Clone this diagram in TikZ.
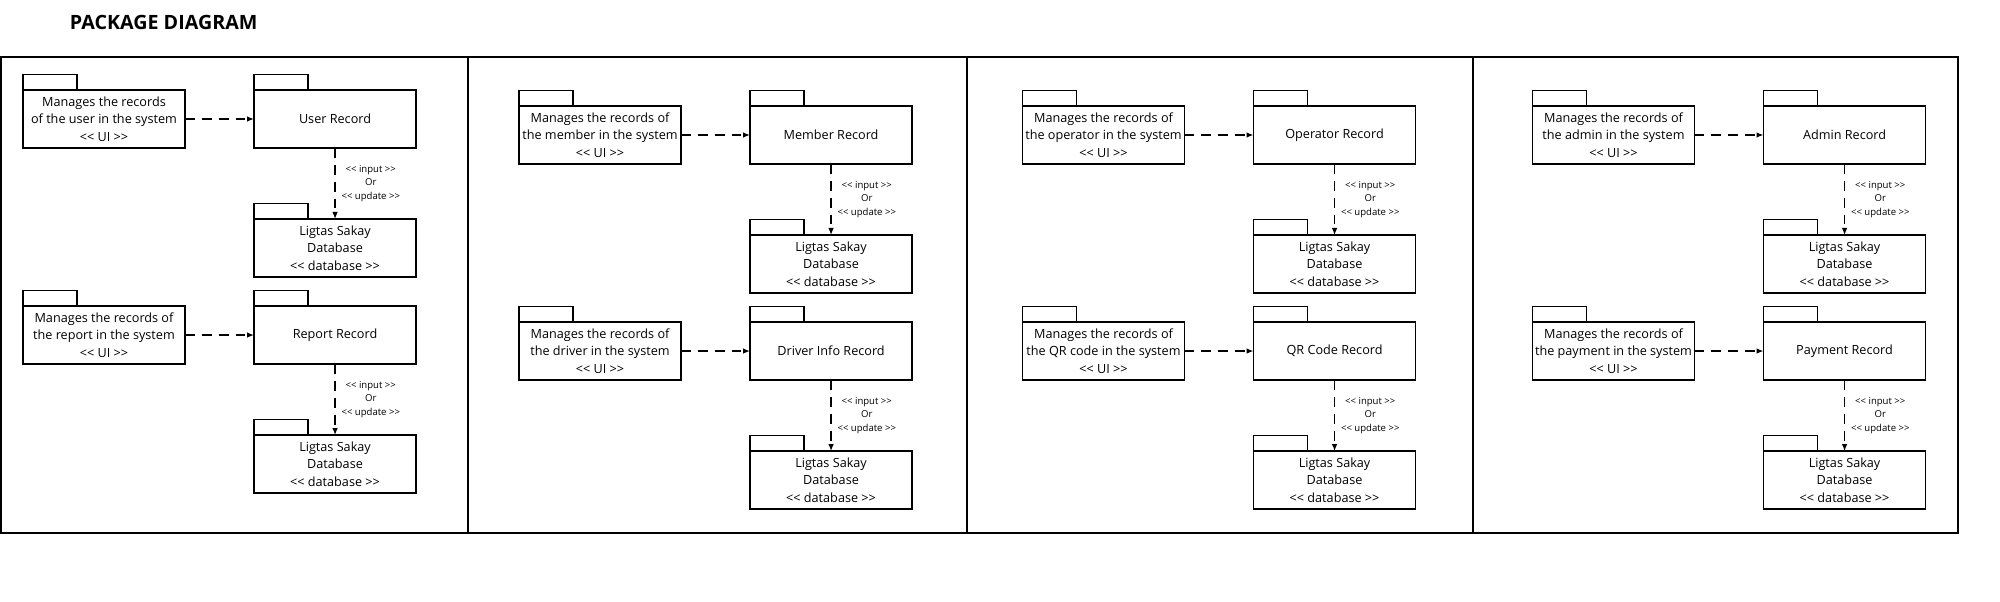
\documentclass[tikz,border=0pt]{standalone}
\usepackage{fontspec}
\setmainfont{Open Sans}
\usetikzlibrary{arrows.meta}

\newcommand{\lsg}{<\kern0pt<}
\newcommand{\rsg}{>\kern0pt>}
\newcommand{\inup}{\lsg{} input \rsg{}\\Or\\\lsg{} update \rsg{}}

\tikzstyle{ui} = [rectangle, draw, line width=1.2pt, outer sep=0pt, inner sep=0.5pt, node distance=5.4cm, minimum width=4.05cm, minimum height=1.45cm, align=center, font=\fontsize{9}{12.3}\selectfont]
\tikzstyle{rec} = [ui, node distance=5.775cm]
\tikzstyle{store} = [ui, node distance=3.225cm]
\tikzstyle{r} = [midway, right, inner sep=2pt, xshift=2pt, align=center, font=\fontsize{6.8}{9.5}\selectfont]
\tikzstyle{dep} = [->, >={Latex[length=5pt,width=4pt]}, line width=1.2pt, dash pattern=on 7pt off 5pt]

\begin{document}
\begin{tikzpicture}[x=0.025cm, y=0.025cm]
	\useasboundingbox (0,0) rectangle (2000,602);
	\node [anchor=west, font=\fontsize{14}{16}\selectfont\bfseries] (title) at (65,580) {PACKAGE DIAGRAM};

	\draw [line width=1.2pt] (1,69) rectangle (1958,545);
	\foreach \x in {468,967,1473}
		\draw [line width=1.2pt] (\x,69) -- (\x,545);

	\node [ui] (ua) at (104,483) {Manages the records\\of the user in the system\\\lsg{} UI \rsg{}};
	\node [rec, right of=ua] (ub) {User Record};
	\node [store, below of=ub] (uc) {Ligtas Sakay\\Database\\\lsg{} database \rsg{}};
	\node [ui, below of=ua] (ra) {Manages the records of\\the report in the system\\\lsg{} UI \rsg{}};
	\node [rec, right of=ra] (rb) {Report Record};
	\node [store, below of=rb] (rc) {Ligtas Sakay\\Database\\\lsg{} database \rsg{}};

	\node [ui] (ma) at (600,467) {Manages the records of\\the member in the system\\\lsg{} UI \rsg{}};
	\node [rec, right of=ma] (mb) {Member Record};
	\node [store, below of=mb] (mc) {Ligtas Sakay\\Database\\\lsg{} database \rsg{}};
	\node [ui, below of=ma] (da) {Manages the records of\\the driver in the system\\\lsg{} UI \rsg{}};
	\node [rec, right of=da] (db) {Driver Info Record};
	\node [store, below of=db] (dc) {Ligtas Sakay\\Database\\\lsg{} database \rsg{}};

	\node [ui] (oa) at (1103.5,467) {Manages the records of\\the operator in the system\\\lsg{} UI \rsg{}};
	\node [rec, right of=oa] (ob) {Operator Record};
	\node [store, below of=ob] (oc) {Ligtas Sakay\\Database\\\lsg{} database \rsg{}};
	\node [ui, below of=oa] (qa) {Manages the records of\\the QR code in the system\\\lsg{} UI \rsg{}};
	\node [rec, right of=qa] (qb) {QR Code Record};
	\node [store, below of=qb] (qc) {Ligtas Sakay\\Database\\\lsg{} database \rsg{}};

	\node [ui] (aa) at (1613.5,467) {Manages the records of\\the admin in the system\\\lsg{} UI \rsg{}};
	\node [rec, right of=aa] (ab) {Admin Record};
	\node [store, below of=ab] (ac) {Ligtas Sakay\\Database\\\lsg{} database \rsg{}};
	\node [ui, below of=aa] (pa) {Manages the records of\\the payment in the system\\\lsg{} UI \rsg{}};
	\node [rec, right of=pa] (pb) {Payment Record};
	\node [store, below of=pb] (pc) {Ligtas Sakay\\Database\\\lsg{} database \rsg{}};

	\foreach \n in {ua,ub,uc,ra,rb,rc,ma,mb,mc,da,db,dc,oa,ob,oc,qa,qb,qc,aa,ab,ac,pa,pb,pc}
		\draw [line width=1.2pt] (\n.north west) rectangle ++(54,15.5);

	\draw [dep] (ua) -- (ub);
	\draw [dep] (ub) -- (uc) node [r] {\inup};
	\draw [dep] (ra) -- (rb);
	\draw [dep] (rb) -- (rc) node [r] {\inup};
	\draw [dep] (ma) -- (mb);
	\draw [dep] (mb) -- (mc) node [r] {\inup};
	\draw [dep] (da) -- (db);
	\draw [dep] (db) -- (dc) node [r] {\inup};
	\draw [dep] (oa) -- (ob);
	\draw [dep] (ob) -- (oc) node [r] {\inup};
	\draw [dep] (qa) -- (qb);
	\draw [dep] (qb) -- (qc) node [r] {\inup};
	\draw [dep] (aa) -- (ab);
	\draw [dep] (ab) -- (ac) node [r] {\inup};
	\draw [dep] (pa) -- (pb);
	\draw [dep] (pb) -- (pc) node [r] {\inup};
\end{tikzpicture}
\end{document}
